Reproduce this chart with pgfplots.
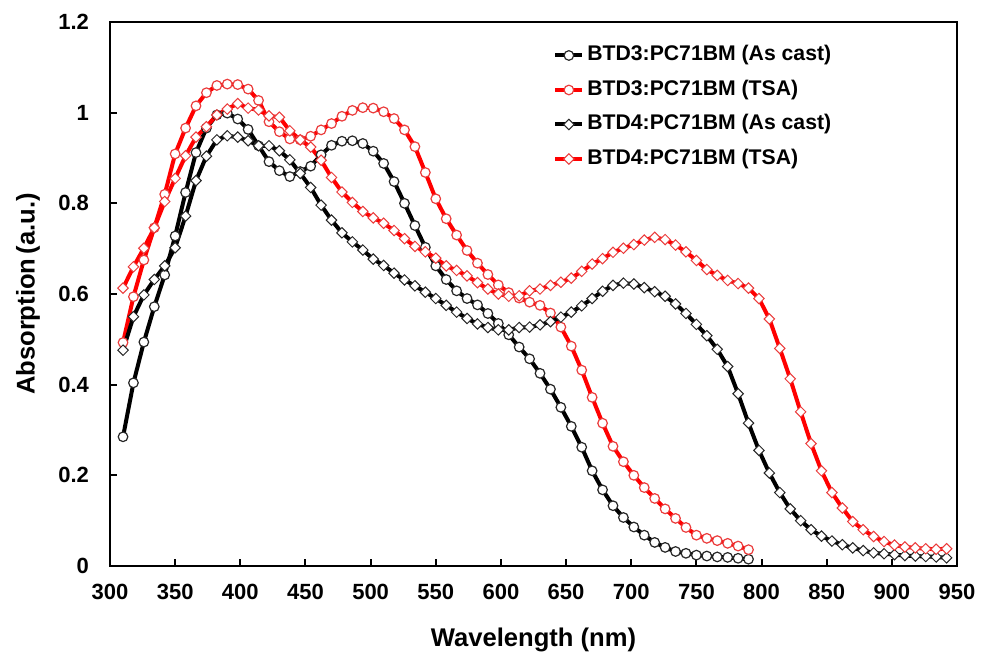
\documentclass[border=0pt]{standalone}
\usepackage{fontspec}
\setmainfont{Liberation Sans}
\usepackage{pgfplots}
\usepackage{pgfplotstable}
\pgfplotsset{compat=1.18}

\pgfplotstableread{
x y
310 0.285
318 0.404
326 0.494
334 0.572
342 0.642
350 0.728
358 0.824
366 0.912
374 0.966
382 0.995
390 0.999
398 0.986
406 0.963
414 0.927
422 0.892
430 0.872
438 0.859
446 0.870
454 0.882
462 0.907
470 0.928
478 0.937
486 0.938
494 0.932
502 0.915
510 0.888
518 0.848
526 0.800
534 0.751
542 0.703
550 0.662
558 0.632
566 0.607
574 0.590
582 0.576
590 0.557
598 0.535
606 0.510
614 0.483
622 0.457
630 0.425
638 0.390
646 0.350
654 0.308
662 0.262
670 0.210
678 0.168
686 0.133
694 0.107
702 0.086
710 0.068
718 0.052
726 0.041
734 0.032
742 0.028
750 0.024
758 0.022
766 0.020
774 0.019
782 0.017
790 0.015
}\btdthreeac

\pgfplotstableread{
x y
310 0.493
318 0.594
326 0.675
334 0.746
342 0.820
350 0.909
358 0.966
366 1.015
374 1.044
382 1.060
390 1.063
398 1.062
406 1.052
414 1.027
422 0.980
430 0.958
438 0.942
446 0.940
454 0.948
462 0.962
470 0.976
478 0.992
486 1.005
494 1.011
502 1.010
510 1.002
518 0.987
526 0.962
534 0.925
542 0.868
550 0.810
558 0.766
566 0.730
574 0.696
582 0.668
590 0.643
598 0.620
606 0.603
614 0.591
622 0.582
630 0.575
638 0.558
646 0.527
654 0.485
662 0.432
670 0.372
678 0.315
686 0.264
694 0.230
702 0.200
710 0.173
718 0.149
726 0.126
734 0.105
742 0.085
750 0.068
758 0.061
766 0.056
774 0.050
782 0.044
790 0.036
}\btdthreetsa

\pgfplotstableread{
x y
310 0.476
318 0.550
326 0.598
334 0.632
342 0.662
350 0.702
358 0.772
366 0.850
374 0.904
382 0.940
390 0.949
398 0.946
406 0.938
414 0.927
422 0.927
430 0.916
438 0.896
446 0.866
454 0.835
462 0.796
470 0.763
478 0.735
486 0.715
494 0.697
502 0.677
510 0.663
518 0.646
526 0.631
534 0.618
542 0.604
550 0.590
558 0.575
566 0.560
574 0.546
582 0.534
590 0.526
598 0.521
606 0.521
614 0.526
622 0.527
630 0.532
638 0.539
646 0.549
654 0.560
662 0.574
670 0.590
678 0.606
686 0.619
694 0.624
702 0.622
710 0.614
718 0.605
726 0.595
734 0.578
742 0.557
750 0.533
758 0.508
766 0.478
774 0.440
782 0.380
790 0.315
798 0.255
806 0.205
814 0.162
822 0.126
830 0.100
838 0.080
846 0.066
854 0.055
862 0.047
870 0.040
878 0.034
886 0.029
894 0.027
902 0.025
910 0.023
918 0.022
926 0.021
934 0.020
942 0.018
}\btdfourac

\pgfplotstableread{
x y
310 0.613
318 0.660
326 0.701
334 0.746
342 0.804
350 0.855
358 0.905
366 0.946
374 0.969
382 0.995
390 1.008
398 1.020
406 1.010
414 1.006
422 0.993
430 0.990
438 0.960
446 0.940
454 0.924
462 0.895
470 0.857
478 0.825
486 0.802
494 0.782
502 0.768
510 0.756
518 0.740
526 0.722
534 0.705
542 0.693
550 0.679
558 0.662
566 0.652
574 0.640
582 0.625
590 0.611
598 0.600
606 0.595
614 0.596
622 0.607
630 0.611
638 0.619
646 0.626
654 0.635
662 0.650
670 0.666
678 0.678
686 0.692
694 0.701
702 0.709
710 0.719
718 0.725
726 0.720
734 0.708
742 0.693
750 0.674
758 0.654
766 0.641
774 0.630
782 0.623
790 0.613
798 0.590
806 0.545
814 0.480
822 0.413
830 0.340
838 0.270
846 0.210
854 0.162
862 0.128
870 0.098
878 0.080
886 0.065
894 0.054
902 0.046
910 0.042
918 0.040
926 0.038
934 0.037
942 0.038
}\btdfourtsa

\definecolor{myred}{RGB}{255,0,0}
\definecolor{mkred}{RGB}{235,60,60}

\begin{document}
\begin{tikzpicture}
\begin{axis}[
  width=423.5pt, height=272pt,
  scale only axis,
  xmin=300, xmax=950, ymin=0, ymax=1.2,
  xtick={300,350,...,950},
  ytick={0,0.2,0.4,0.6,0.8,1,1.2},
  tick pos=left,
  tick align=inside,
  major tick length=3.5pt,
  major tick style={line width=1pt, black},
  axis line style={line width=1.2pt},
  /pgf/number format/assume math mode=true,
  ticklabel style={font=\bfseries\fontsize{11}{13}\selectfont},
  yticklabel style={xshift=-7pt},
  xticklabel style={yshift=-5.5pt},
  xlabel={Wavelength (nm)},
  ylabel={Absorption\,(a.u.)},
  label style={font=\bfseries\fontsize{12.8}{15}\selectfont},
  xlabel style={at={(axis description cs:0.5,-0.136)}, anchor=center},
  ylabel style={at={(axis description cs:-0.0968,0.5)}, anchor=center},
  legend style={at={(axis description cs:0.523,0.964)}, anchor=north west,
    draw=none, fill=none, inner sep=0pt, row sep=3.75pt,
    font=\bfseries\fontsize{10.6}{12}\selectfont,
    nodes={inner sep=1.5pt, text height=8pt, text depth=2.5pt}},
  legend cell align=left,
  legend image code/.code={
    \draw[mark repeat=2,mark phase=2,#1] plot coordinates {(0pt,0pt) (6.75pt,0pt) (13.5pt,0pt)};
  },
  clip=false,
]
\coordinate (sw) at (rel axis cs:0,0);
\coordinate (ne) at (rel axis cs:1,1);
\addplot[black, line width=2pt, mark=*, mark size=2.4pt,
  mark options={solid, fill=white, line width=0.6pt, draw=black!85}]
  table[x=x,y=y] {\btdthreeac};
\addlegendentry{BTD3:PC71BM (As cast)}
\addplot[myred, line width=2pt, mark=*, mark size=2.4pt,
  mark options={solid, fill=white, line width=0.6pt, draw=mkred}]
  table[x=x,y=y] {\btdthreetsa};
\addlegendentry{BTD3:PC71BM (TSA)}
\addplot[black, line width=2pt, mark=square*, mark size=1.85pt,
  mark options={solid, rotate=45, fill=white, line width=0.5pt, draw=black!85}]
  table[x=x,y=y] {\btdfourac};
\addlegendentry{BTD4:PC71BM (As cast)}
\addplot[myred, line width=2pt, mark=square*, mark size=1.85pt,
  mark options={solid, rotate=45, fill=white, line width=0.5pt, draw=mkred}]
  table[x=x,y=y] {\btdfourtsa};
\addlegendentry{BTD4:PC71BM (TSA)}
\end{axis}
\pgfresetboundingbox
\path ([shift={(-55pt,-45.5pt)}]sw) rectangle ([shift={(12.5pt,11pt)}]ne);
\end{tikzpicture}
\end{document}
